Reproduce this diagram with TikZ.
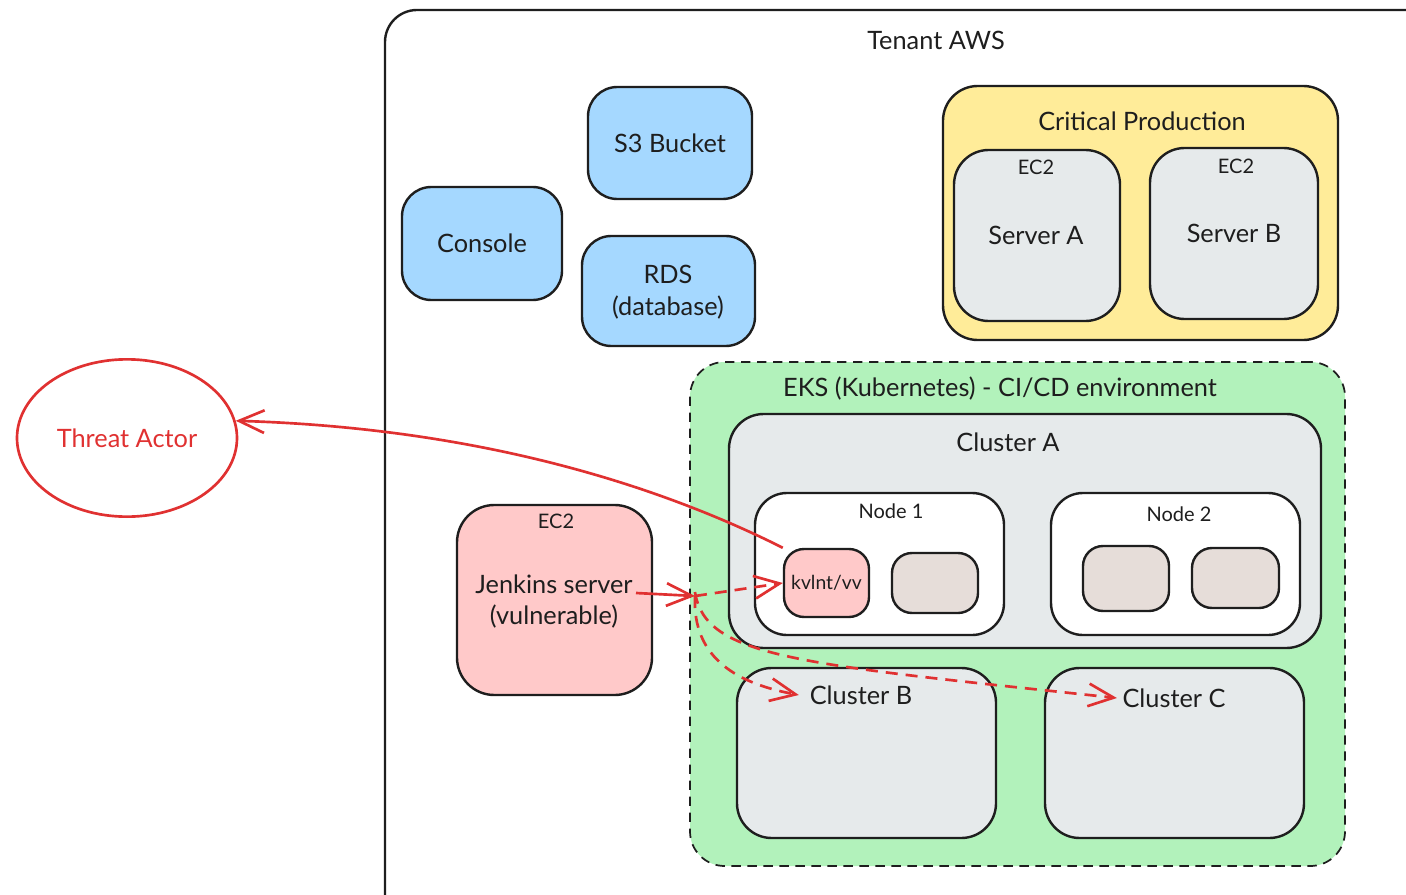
\documentclass[tikz,border=0pt]{standalone}
\usepackage{fontspec}
\setmainfont{Lato}
\usetikzlibrary{arrows.meta,fit,shapes.geometric}
\definecolor{ink}{HTML}{1E1E1E}
\definecolor{rd}{HTML}{E03131}
\definecolor{bluef}{HTML}{A5D8FF}
\definecolor{yellowf}{HTML}{FFEC99}
\definecolor{greenf}{HTML}{B2F2BB}
\definecolor{grayf}{HTML}{E6EAEB}
\definecolor{redf}{HTML}{FFC9C9}
\definecolor{brownf}{HTML}{E6DDD9}
\tikzset{
  box/.style={draw=ink, line width=1.8pt, rounded corners=#1, inner sep=0pt},
  box/.default=20pt,
  big/.style={font=\fontsize{19}{22}\selectfont, text=ink, inner sep=1pt},
  small/.style={font=\fontsize{15}{18}\selectfont, text=ink, inner sep=1pt},
  tiny/.style={font=\fontsize{14.5}{17}\selectfont, text=ink, inner sep=1pt},
  redline/.style={draw=rd, line width=2pt},
  tip/.style={-{Straight Barb[length=19pt,width=17pt]}},
  reddash/.style={dash pattern=on 9pt off 6pt}
}
\begin{document}
\begin{tikzpicture}[x=0.75pt,y=-0.75pt]
\useasboundingbox (0,0) rectangle (1406,895);
\clip (0,0) rectangle (1406,895);
% Tenant AWS
\node[box=24pt, fill=white, fit={(385,10)(1440,930)}] (tenant) {};
\node[big] (tenantT) at (936,40) {Tenant AWS};
% blue services
\node[box=22pt, fill=bluef, fit={(588,87)(752,199)}] (s3) {};
\node[big] at (s3.center) (s3T) {S3 Bucket};
\node[box=22pt, fill=bluef, fit={(402,187)(562,300)}] (console) {};
\node[big] at (console.center) (consoleT) {Console};
\node[box=22pt, fill=bluef, fit={(582,236)(755,346)}] (rds) {};
\node[big] (rdsT1) at (668,274) {RDS};
\node[big] (rdsT2) at (668,308) {(database)};
% Critical production
\node[box=26pt, fill=yellowf, fit={(943,86)(1338,340)}] (crit) {};
\node[big] (critT) at (1142,121) {Critical Production};
\node[box=26pt, fill=grayf, fit={(954,150)(1120,321)}] (srvA) {};
\node[small] (srvAe) at (1036,167) {EC2};
\node[big] (srvAT) at (1036,235) {Server A};
\node[box=26pt, fill=grayf, fit={(1150,148)(1318,319)}] (srvB) {};
\node[small] (srvBe) at (1236,166) {EC2};
\node[big] (srvBT) at (1234,233) {Server B};
% EKS
\node[draw=ink, line width=1.3pt, dash pattern=on 7pt off 5pt, rounded corners=26pt, inner sep=0pt, fill=greenf, fit={(690,362)(1345,866)}] (eks) {};
\node[big] (eksT) at (1000,389) {EKS (Kubernetes) - CI/CD environment};
% Cluster A
\node[box=26pt, fill=grayf, fit={(729,414)(1321,648)}] (clA) {};
\node[big] (clAT) at (1008,442) {Cluster A};
\node[box=24pt, fill=white, fit={(755,493)(1004,635)}] (n1) {};
\node[small] (n1T) at (891,511) {Node 1};
\node[box=24pt, fill=white, fit={(1051,493)(1300,635)}] (n2) {};
\node[small] (n2T) at (1179,514) {Node 2};
\node[box=15pt, fill=redf, fit={(784,549)(869,617)}] (kv) {};
\node[tiny] (kvT) at (kv.center) {kvlnt/vv};
\node[box=15pt, fill=brownf, fit={(892,553)(978,613)}] (p1) {};
\node[box=15pt, fill=brownf, fit={(1083,546)(1169,611)}] (p2) {};
\node[box=15pt, fill=brownf, fit={(1192,548)(1279,608)}] (p3) {};
% Cluster B, C
\node[box=26pt, fill=grayf, fit={(737,668)(996,838)}] (clB) {};
\node[big] (clBT) at (861,695) {Cluster B};
\node[box=26pt, fill=grayf, fit={(1045,668)(1304,838)}] (clC) {};
\node[big] (clCT) at (1174,698) {Cluster C};
% Jenkins
\node[box=28pt, fill=redf, fit={(457,505)(652,695)}] (jk) {};
\node[small] (jkE) at (556,521) {EC2};
\node[big] (jkT1) at (554,584) {Jenkins server};
\node[big] (jkT2) at (554,617) {(vulnerable)};
% Threat actor
\node[draw=rd, line width=2pt, ellipse, minimum width=165pt, minimum height=118pt, text=rd, font=\fontsize{19}{22}\selectfont] (ta) at (127,438) {Threat Actor};
% connectors
\coordinate (hub) at (695,596);
\coordinate (jkout) at (636,593);
\draw[redline, tip] (kv.north west) .. controls (660,486) and (480,428) .. (ta.9);
\draw[redline, tip] (jkout) -- (hub);
\draw[redline, reddash, tip] (hub) -- (kv.west);
\draw[redline, reddash, tip] (hub) .. controls (692,660) and (740,684) .. ([xshift=-7pt]clBT.west);
\draw[redline, reddash, tip] ([yshift=3pt]hub) .. controls (705,658) and (800,664) .. ([xshift=-3pt]clCT.west);
\end{tikzpicture}
\end{document}
